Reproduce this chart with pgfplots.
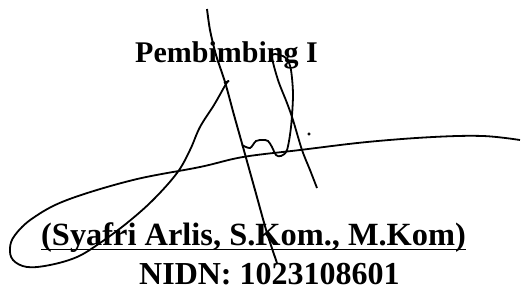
\documentclass[border=0pt]{standalone}
\usepackage{pgfplots}
\pgfplotsset{compat=1.18}
\usepackage{fontspec}
\setmainfont{Liberation Serif}
\begin{document}
\begin{tikzpicture}
\useasboundingbox (0,0) rectangle (521pt,290pt);
\fill[white] (0,0) rectangle (521pt,290pt);
\begin{axis}[at={(0,0)},anchor=south west,width=521pt,height=290pt,scale only axis,hide axis,
  xmin=0,xmax=521,ymin=0,ymax=290,y dir=reverse,clip=false]
% long near-vertical stroke
\addplot[black,line width=1.9pt,smooth] coordinates {(207,9) (210,30) (216,55) (225,82) (234,115) (243,147) (255,190) (267,233) (277,263)};
% big loop stroke
\addplot[black,line width=1.8pt,smooth,tension=0.6] coordinates {(229,81) (226,84) (214,105) (200,127) (190,150) (177,173) (153,200) (127,223) (100,243) (77,257) (50,265) (27,267) (13,260) (10,248) (15,235) (33,218) (67,200) (133,180) (200,167) (243,157) (300,150) (367,142) (433,137) (483,136) (520,140)};
% small hook at top of loop stroke
\addplot[black,line width=1.8pt] coordinates {(224,83) (229,81)};
% wiggle and loop
\addplot[black,line width=1.8pt,smooth,tension=0.5] coordinates {(242,145) (250,148) (256,141) (263,140) (268,141) (272,147) (276,155) (281,156) (287,150) (291,127) (293,95) (291,70) (287,59) (280,55) (272,56) (278,80) (287,103) (293,120) (302,150) (310,170) (317,188)};
% dot
\addplot[black,only marks,mark=*,mark size=1.4pt] coordinates {(309,134)};
% underline
\addplot[black,line width=1.7pt] coordinates {(41,249.5) (466,249.5)};
\node[anchor=base west,inner sep=0pt,font=\bfseries\fontsize{30}{30}\selectfont] at (axis cs:135,62) {Pembimbing I};
\node[anchor=base west,inner sep=0pt,font=\bfseries\fontsize{32.4}{32}\selectfont] at (axis cs:41,245) {(Syafri Arlis, S.Kom., M.Kom)};
\node[anchor=base west,inner sep=0pt,font=\bfseries\fontsize{32}{32}\selectfont] at (axis cs:139,284.5) {NIDN: 1023108601};
\end{axis}
\end{tikzpicture}
\end{document}
